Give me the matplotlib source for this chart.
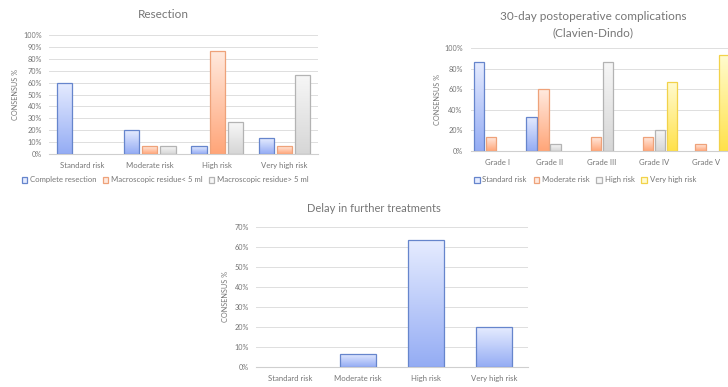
import numpy as np
import matplotlib
matplotlib.use("Agg")
import matplotlib.pyplot as plt
from matplotlib.colors import LinearSegmentedColormap
from matplotlib.patches import Patch
from matplotlib.ticker import FuncFormatter, MultipleLocator

plt.rcParams['font.family'] = ['Lato', 'DejaVu Sans']

# ---- data ----
risk_groups = ["Standard risk", "Moderate risk", "High risk", "Very high risk"]

resection_series = ["Complete resection", "Macroscopic residue< 5 ml", "Macroscopic residue> 5 ml"]
resection_complete = [60.0, 20.0, 6.7, 13.3]
resection_lt5 = [0.0, 6.7, 86.7, 6.7]
resection_gt5 = [0.0, 6.7, 26.7, 66.7]

grades = ["Grade I", "Grade II", "Grade III", "Grade IV", "Grade V"]
cd_series = ["Standard risk", "Moderate risk", "High risk", "Very high risk"]
cd_standard = [86.7, 33.3, 0.0, 0.0, 0.0]
cd_moderate = [13.3, 60.0, 13.3, 13.3, 6.7]
cd_high = [0.0, 6.7, 86.7, 20.0, 0.0]
cd_very_high = [0.0, 0.0, 0.0, 66.7, 93.3]

delay_values = [0.0, 6.7, 63.3, 20.0]

# ---- styles: (top colour, bottom colour, edge colour) ----
BLUE = ("#e6ecff", "#94acf4", "#6685cc")
ORANGE = ("#ffeadf", "#ffa578", "#eea27a")
GREY = ("#f7f7f7", "#d6d6d6", "#b3b3b3")
YELLOW = ("#fffbd0", "#ffe14a", "#f2d24a")

TEXT = "#767676"
GRID = "#dedede"

W, H = 728, 387
fig = plt.figure(figsize=(W / 100, H / 100), dpi=100)


def px_axes(x0, x1, ytop, ybot):
    return fig.add_axes([x0 / W, 1 - ybot / H, (x1 - x0) / W, (ybot - ytop) / H])


def gradient_bars(ax, x, values, width, style):
    top, bottom, edge = style
    cmap = LinearSegmentedColormap.from_list("g", [bottom, top])
    grad = np.linspace(0, 1, 256).reshape(-1, 1)
    bars = ax.bar(x, values, width, facecolor="none", edgecolor=edge,
                  linewidth=0.9, zorder=3)
    for b in bars:
        h = b.get_height()
        if h <= 0:
            b.set_visible(False)
            continue
        im = ax.imshow(grad, extent=[b.get_x(), b.get_x() + b.get_width(), 0, h],
                       origin="lower", aspect="auto", cmap=cmap, zorder=2,
                       interpolation="bilinear")
        im.set_clip_path(b)
    return bars


def style_axes(ax, ymax, ystep, ncat, labels, ylabel_x, pad):
    ax.set_xlim(-0.5, ncat - 0.5)
    ax.set_ylim(0, ymax)
    ax.yaxis.set_major_locator(MultipleLocator(ystep))
    ax.yaxis.set_major_formatter(FuncFormatter(lambda v, p: f"{v:.0f}%"))
    ax.set_xticks(range(ncat))
    ax.set_xticklabels(labels)
    ax.grid(axis="y", color=GRID, linewidth=0.7, zorder=0)
    ax.set_axisbelow(True)
    for s in ("top", "right", "left"):
        ax.spines[s].set_visible(False)
    ax.spines["bottom"].set_color("#cfcfcf")
    ax.spines["bottom"].set_linewidth(0.8)
    ax.tick_params(axis="both", length=0, colors=TEXT)
    ax.tick_params(axis="y", labelsize=5.2, pad=pad)
    ax.tick_params(axis="x", labelsize=5.6, pad=5.5)
    ax.set_ylabel("CONSENSUS %", fontsize=5.2, color=TEXT)
    ax.yaxis.set_label_coords(ylabel_x, 0.5)


def legend_below(labels, styles, ypx, xcenter_px, colspace):
    handles = [Patch(facecolor=s[0], edgecolor=s[2], linewidth=0.9) for s in styles]
    fig.legend(handles, labels, loc="center", bbox_to_anchor=(xcenter_px / W, 1 - ypx / H),
               ncol=len(labels), frameon=False, fontsize=5.6, labelcolor=TEXT,
               handlelength=0.75, handleheight=0.75, handletextpad=0.3,
               columnspacing=colspace, borderpad=0, borderaxespad=0)


# ---- Resection ----
ax1 = px_axes(49, 318, 35, 154)
x = np.arange(len(risk_groups))
step, bw = 0.27, 0.225
for i, (vals, st) in enumerate(zip([resection_complete, resection_lt5, resection_gt5],
                                   [BLUE, ORANGE, GREY])):
    gradient_bars(ax1, x + (i - 1) * step, vals, bw, st)
style_axes(ax1, 100, 10, len(risk_groups), risk_groups, -0.11, 5)
fig.text(163 / W, 1 - 14 / H, "Resection", ha="center", va="center",
         fontsize=8.5, color=TEXT)
legend_below(resection_series, [BLUE, ORANGE, GREY], 180, 165, 0.8)

# ---- Clavien-Dindo ----
ax2 = px_axes(471, 732.5, 48, 151)
x = np.arange(len(grades))
step, bw = 0.23, 0.2
for i, (vals, st) in enumerate(zip([cd_standard, cd_moderate, cd_high, cd_very_high],
                                   [BLUE, ORANGE, GREY, YELLOW])):
    gradient_bars(ax2, x + (i - 1.5) * step, vals, bw, st)
style_axes(ax2, 100, 20, len(grades), grades, -0.115, 6)
fig.text(593 / W, 1 - 16 / H, "30-day postoperative complications", ha="center",
         va="center", fontsize=8.5, color=TEXT)
fig.text(593 / W, 1 - 33 / H, "(Clavien-Dindo)", ha="center", va="center",
         fontsize=8.5, color=TEXT)
legend_below(cd_series, [BLUE, ORANGE, GREY, YELLOW], 180, 585, 0.9)

# ---- Delay in further treatments ----
ax3 = px_axes(256, 528, 227, 367)
x = np.arange(len(risk_groups))
gradient_bars(ax3, x, delay_values, 0.515, BLUE)
style_axes(ax3, 70, 10, len(risk_groups), risk_groups, -0.1, 5)
fig.text(374 / W, 1 - 209 / H, "Delay in further treatments", ha="center",
         va="center", fontsize=8, color=TEXT)

fig.savefig("out.png", dpi=100)
